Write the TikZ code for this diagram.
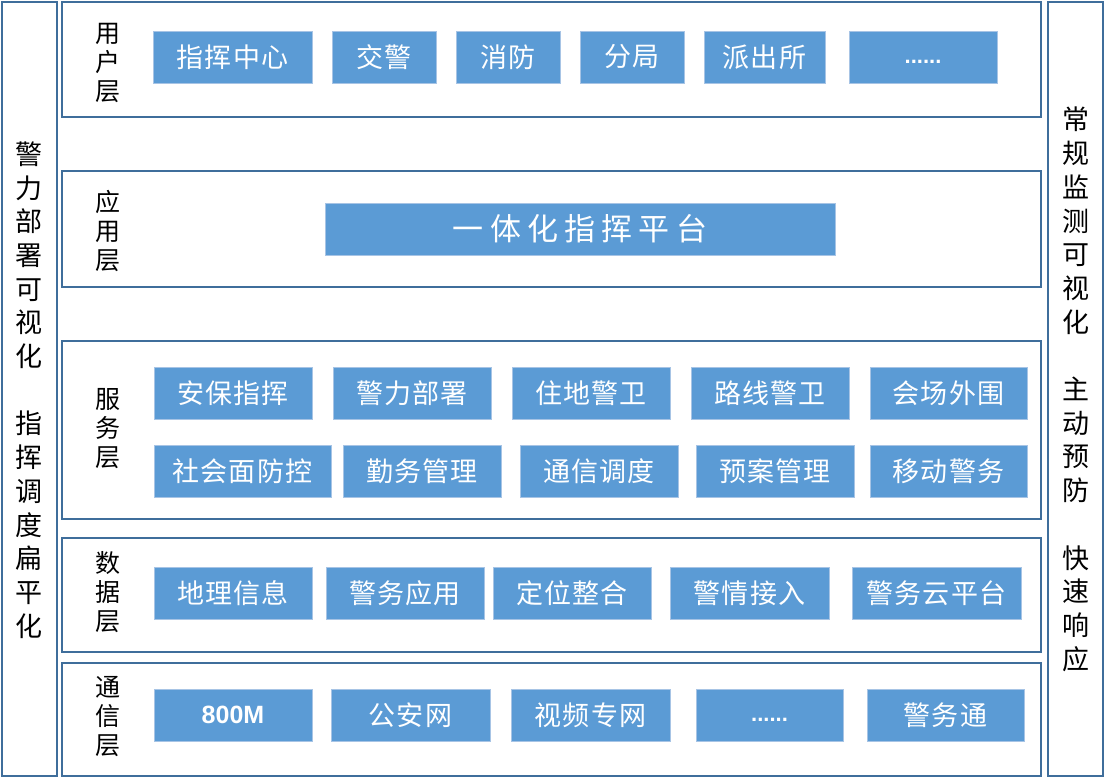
\documentclass[tikz,border=0pt]{standalone}
\usepackage{fontspec}
\setmainfont{Noto Sans CJK SC}
\newfontfamily\sidefont{Noto Sans CJK SC}
\newfontfamily\boxfont{Noto Sans CJK SC}[LetterSpace=4]
\newfontfamily\platfont{Noto Sans CJK SC}[LetterSpace=20]
\newfontfamily\latinfont{Liberation Sans}
\definecolor{frameblue}{HTML}{3F6E9B}
\definecolor{boxblue}{HTML}{5B9BD5}
\definecolor{boxedge}{HTML}{A7C4E5}
\tikzset{
  frame/.style={draw=frameblue, line width=2.6pt, fill=white, inner sep=0pt, outer sep=0pt},
  bx/.style={fill=boxblue, draw=boxedge, line width=0.8pt, text=white, inner sep=0pt, outer sep=0pt,
    font=\boxfont\fontsize{27}{27}\selectfont},
  latinbx/.style={bx, font=\latinfont\bfseries\fontsize{25}{25}\selectfont},
  dotbx/.style={bx, font=\latinfont\bfseries\fontsize{22}{22}\selectfont},
  plat/.style={bx, font=\platfont\fontsize{31}{31}\selectfont},
  sidetext/.style={align=center, inner sep=0pt, text=black, font=\sidefont\fontsize{27}{33.7}\selectfont},
  layertext/.style={align=center, inner sep=0pt, text=black, font=\sidefont\fontsize{25}{29}\selectfont}
}
\newcommand\rectnode[7]{\node[#1, minimum width={(#5-#3)*1pt}, minimum height={(#6-#4)*1pt}] (#2) at ({(#3+#5)/2},{(#4+#6)/2}) {#7};}
\newcommand\lowdots{\raisebox{-6.5pt}[0pt][0pt]{......}}
\begin{document}
\begin{tikzpicture}[x=1pt,y=-1pt]
\useasboundingbox (0,0) rectangle (1106,778);
% frames
\rectnode{frame}{leftcol}{2}{2}{57}{776}{}
\rectnode{frame}{rightcol}{1048}{2}{1103}{776}{}
\rectnode{frame}{fuser}{62}{2}{1041}{117}{}
\rectnode{frame}{fapp}{62}{171}{1041}{287}{}
\rectnode{frame}{fserv}{62}{341}{1041}{519}{}
\rectnode{frame}{fdata}{62}{538}{1041}{652}{}
\rectnode{frame}{fcomm}{62}{663}{1041}{776}{}
% side texts
\node[sidetext] (lefttxt) at (29.5,390) {警\\力\\部\\署\\可\\视\\化\\\mbox{}\\指\\挥\\调\\度\\扁\\平\\化};
\node[sidetext] (righttxt) at (1075.5,389.4) {常\\规\\监\\测\\可\\视\\化\\\mbox{}\\主\\动\\预\\防\\\mbox{}\\快\\速\\响\\应};
% layer labels
\node[layertext] (luser) at (108,62.5) {用\\户\\层};
\node[layertext] (lapp) at (108,231) {应\\用\\层};
\node[layertext] (lserv) at (108,428.5) {服\\务\\层};
\node[layertext] (ldata) at (108,592) {数\\据\\层};
\node[layertext] (lcomm) at (108,717) {通\\信\\层};
% user layer
\rectnode{bx}{u1}{153}{31}{312}{83}{指挥中心}
\rectnode{bx}{u2}{332}{31}{436}{83}{交警}
\rectnode{bx}{u3}{456}{31}{560}{83}{消防}
\rectnode{bx}{u4}{580}{31}{684}{83}{分局}
\rectnode{bx}{u5}{704}{31}{825}{83}{派出所}
\rectnode{dotbx}{u6}{849}{31}{997}{83}{\lowdots}
% application layer
\rectnode{plat}{a1}{325}{203}{835}{255}{一体化指挥平台}
% service layer
\rectnode{bx}{s1}{154}{367}{312}{419}{安保指挥}
\rectnode{bx}{s2}{333}{367}{491}{419}{警力部署}
\rectnode{bx}{s3}{512}{367}{670}{419}{住地警卫}
\rectnode{bx}{s4}{691}{367}{849}{419}{路线警卫}
\rectnode{bx}{s5}{870}{367}{1027}{419}{会场外围}
\rectnode{bx}{s6}{154}{445}{331}{497}{社会面防控}
\rectnode{bx}{s7}{343}{445}{501}{497}{勤务管理}
\rectnode{bx}{s8}{520}{445}{678}{497}{通信调度}
\rectnode{bx}{s9}{696}{445}{854}{497}{预案管理}
\rectnode{bx}{s10}{870}{445}{1027}{497}{移动警务}
% data layer
\rectnode{bx}{d1}{154}{567}{312}{619}{地理信息}
\rectnode{bx}{d2}{326}{567}{484}{619}{警务应用}
\rectnode{bx}{d3}{493}{567}{651}{619}{定位整合}
\rectnode{bx}{d4}{670}{567}{829}{619}{警情接入}
\rectnode{bx}{d5}{852}{567}{1021}{619}{警务云平台}
% communication layer
\rectnode{latinbx}{c1}{154}{689}{312}{741}{800M}
\rectnode{bx}{c2}{331}{689}{490}{741}{公安网}
\rectnode{bx}{c3}{511}{689}{670}{741}{视频专网}
\rectnode{dotbx}{c4}{696}{689}{843}{741}{\lowdots}
\rectnode{bx}{c5}{867}{689}{1024}{741}{警务通}
\end{tikzpicture}
\end{document}
